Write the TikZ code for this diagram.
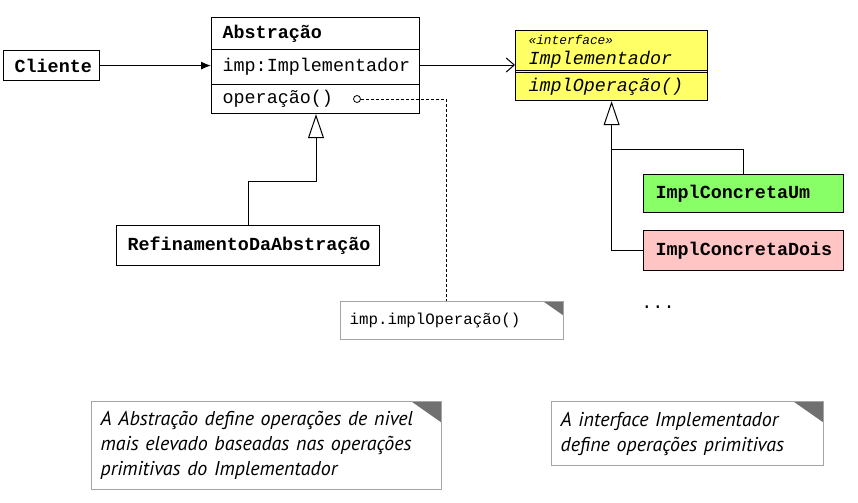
\documentclass[tikz,border=0pt]{standalone}
\usepackage{fontspec}
\setmonofont{Liberation Mono}
\newfontfamily\notefont{PT Sans}
\usetikzlibrary{arrows.meta,positioning}
\definecolor{ifyellow}{RGB}{255,255,102}
\definecolor{umgreen}{RGB}{136,255,102}
\definecolor{doispink}{RGB}{255,196,196}
\definecolor{foldgray}{RGB}{112,112,112}
\definecolor{notegray}{RGB}{165,165,165}
\newcommand{\umlsize}{\fontsize{9.2}{11}\selectfont}
\tikzset{
  cls/.style={draw,line width=0.6pt,anchor=north west,inner xsep=5.5pt,inner ysep=0pt,
    align=left,font=\ttfamily\umlsize},
  inh/.style={-{Triangle[open,width=8pt,length=12pt]},line width=0.5pt},
  note/.style={draw=notegray,line width=0.6pt,fill=white,anchor=north west,inner xsep=4.5pt,
    inner ysep=0pt,align=left,
    path picture={\fill[foldgray] ([xshift=-#1]path picture bounding box.north east)
      -- (path picture bounding box.north east)
      -- ([yshift=-0.7*#1]path picture bounding box.north east) -- cycle;}}
}

\begin{document}
\begin{tikzpicture}[x=0.5pt,y=-0.5pt]
  \useasboundingbox (0,0) rectangle (858,503);
  \node[cls,align=center,text width=37pt,minimum height=15pt] (cli) at (3,50) {\textbf{Cliente}};
  \node[cls,text width=93pt,minimum height=16pt] (abs) at (211,17) {\textbf{Abstração}};
  \node[cls,text width=93pt,minimum height=17.5pt] (absattr) at (211,49) {imp:Implementador};
  \node[cls,text width=93pt,minimum height=14.5pt] (absop) at (211,84) {operação()};
  \node[draw,circle,inner sep=0pt,minimum size=3.5pt,line width=0.4pt] (dot) at (357,99) {};
  \node[cls,align=center,text width=120.5pt,minimum height=20pt] (ref) at (116,225) {\textbf{RefinamentoDaAbstração}};
  \node[cls,fill=ifyellow,inner xsep=6.5pt,text width=83pt,minimum height=21pt,align=left] (impl) at (515,30)
    {{\fontsize{6.4}{7}\selectfont\itshape «interface»}\\[-1pt]\itshape Implementador};
  \node[cls,fill=ifyellow,inner xsep=6.5pt,text width=83pt,minimum height=14pt] (implop) at (515,72) {\itshape implOperação()};
  \draw[line width=0.6pt] ([yshift=1.5pt]impl.south west) -- ([yshift=1.5pt]impl.south east);
  \node[cls,fill=umgreen,inner xsep=6pt,text width=88pt,minimum height=19pt] (um) at (643,174) {\textbf{ImplConcretaUm}};
  \node[cls,fill=doispink,inner xsep=6pt,text width=88pt,minimum height=20pt] (dois) at (643,230) {\textbf{ImplConcretaDois}};
  \node[font=\ttfamily\umlsize] (more) at (658,307) {...};

  \node[note=10pt,text width=102.5pt,minimum height=19pt,font=\ttfamily\fontsize{7.9}{9}\selectfont] (impnote) at (340,301) {imp.implOperação()};
  \node[note=15pt,text width=166pt,minimum height=44pt,font=\notefont\itshape\fontsize{10}{12.5}\selectfont] (absnote) at (91,401)
    {A Abstração define operações de nivel\\ mais elevado baseadas nas operações\\ primitivas do Implementador};
  \node[note=15pt,text width=127pt,minimum height=32pt,font=\notefont\itshape\fontsize{10}{12.5}\selectfont] (implnote) at (551,401)
    {A interface Implementador\\ define operações primitivas};

  \coordinate (refbend) at (316,181);
  \coordinate (umbend) at (611,149);
  \draw[-{Latex[length=5pt,width=4pt]},line width=0.5pt] (cli.east) -- (cli.east -| absattr.west);
  \draw[-{Straight Barb[length=4pt,width=7pt]},line width=0.5pt] (absattr.east |- 0,65) -- (impl.west |- 0,65);
  \draw[inh] (ref.north) |- (refbend) -- (absop.south -| refbend);
  \draw[inh] (dois.west) -| (implop.south);
  \draw[line width=0.5pt] (um.north) |- (umbend);
  \draw[dash pattern=on 1.5pt off 1pt,line width=0.5pt] (dot.east) -| ([xshift=-3pt]impnote.north);
\end{tikzpicture}
\end{document}
